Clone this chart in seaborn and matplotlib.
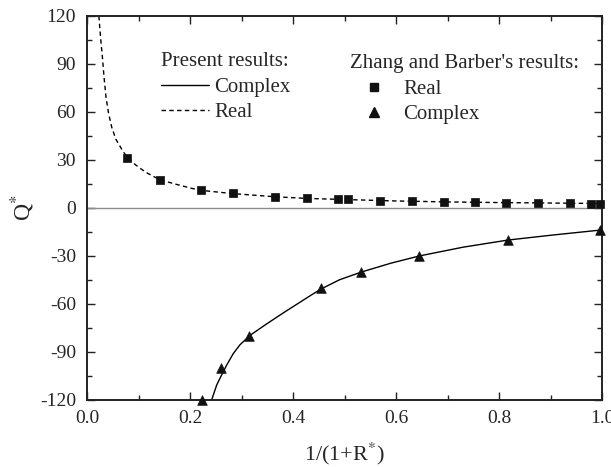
import numpy as np
import pandas as pd
import matplotlib
matplotlib.use("Agg")
import matplotlib.pyplot as plt
from matplotlib.lines import Line2D
import seaborn as sns

# Present results: computed curves
real_curve_x = [0.023, 0.0265, 0.030, 0.033, 0.037, 0.042, 0.048, 0.056, 0.067, 0.079,
                0.100, 0.116, 0.141, 0.171, 0.203, 0.222, 0.283, 0.366, 0.427, 0.500,
                0.600, 0.700, 0.800, 0.900, 1.000]
real_curve_y = [120, 106, 94, 82, 69, 59, 50.5, 43, 37, 31,
                25.5, 22, 17.7, 15, 12.3, 11, 9, 7, 6, 5.3,
                4.4, 3.8, 3.4, 3.1, 2.8]

complex_curve_x = [0.242, 0.252, 0.262, 0.271, 0.284, 0.297, 0.317, 0.349, 0.381, 0.414,
                   0.433, 0.454, 0.490, 0.533, 0.590, 0.645, 0.730, 0.818, 0.910, 1.000]
complex_curve_y = [-120, -110.5, -104, -98.3, -91, -85.5, -79.5, -72.4, -65.6, -58.8,
                   -54.9, -50.7, -44.9, -40, -34.5, -30, -24.5, -20, -16.7, -13.7]

# Zhang and Barber's results
zb_real_x = [0.078, 0.141, 0.222, 0.283, 0.366, 0.427, 0.488, 0.507, 0.569, 0.632,
             0.693, 0.753, 0.814, 0.875, 0.937, 0.979, 0.996]
zb_real_y = [31, 17.5, 11, 9.2, 7.1, 6, 5.4, 5.4, 4.6, 4.2,
             3.8, 3.5, 3.3, 3.1, 3.0, 2.8, 2.7]

zb_complex_x = [0.223, 0.261, 0.315, 0.454, 0.533, 0.645, 0.818, 0.997]
zb_complex_y = [-120, -100, -80, -50, -40, -30, -20, -13.5]

x_ticks = [0.0, 0.2, 0.4, 0.6, 0.8, 1.0]
y_ticks = [-120, -90, -60, -30, 0, 30, 60, 90, 120]

sns.set_theme(style="ticks")
plt.rcParams["font.family"] = ["Liberation Serif", "DejaVu Serif"]
plt.rcParams["mathtext.fontset"] = "stix"
plt.rcParams["xtick.direction"] = "in"
plt.rcParams["ytick.direction"] = "in"

fig = plt.figure(figsize=(6.11, 4.67), dpi=100)
ax = fig.add_axes([87 / 611, 67 / 467, 515 / 611, 384 / 467])

ax.axhline(0, color="#8c8c8c", lw=1.0, zorder=1)

dash = (0, (3.2, 2.4))
sns.lineplot(x=real_curve_x, y=real_curve_y, ax=ax, color="black", lw=1.0,
             linestyle=dash, estimator=None, sort=False, zorder=2)
sns.lineplot(x=complex_curve_x, y=complex_curve_y, ax=ax, color="black", lw=1.0,
             estimator=None, sort=False, zorder=2)
sns.scatterplot(x=zb_real_x, y=zb_real_y, ax=ax, marker="s", s=28, color="#111111",
                edgecolor="#111111", linewidth=0.5, zorder=3, clip_on=False)
sns.scatterplot(x=zb_complex_x, y=zb_complex_y, ax=ax, marker="^", s=48, color="#111111",
                edgecolor="#111111", linewidth=0.5, zorder=3, clip_on=False)

ax.set_xlim(0, 1)
ax.set_ylim(-120, 120)
ax.set_xticks(x_ticks)
ax.set_xticklabels([f"{v:.1f}" for v in x_ticks])
ax.set_yticks(y_ticks)
ax.set_yticklabels([str(v) for v in y_ticks])
ax.set_xticks(np.arange(0.1, 1.0, 0.2), minor=True)
ax.set_yticks(np.arange(-105, 120, 30), minor=True)
ax.tick_params(which="both", top=True, right=True, labeltop=False, labelright=False,
               width=1.0, color="#222222")
ax.tick_params(which="major", length=6, labelsize=14)
ax.tick_params(axis="x", which="major", pad=7)
ax.tick_params(axis="y", which="major", pad=8)
ax.tick_params(which="minor", length=3.5)
for s in ax.spines.values():
    s.set_linewidth(1.4)
    s.set_color("#222222")

ax.set_xlabel(r"1/(1+R$^{*}$)", fontsize=16, labelpad=10)
ax.set_ylabel(r"Q$^{*}$", fontsize=17)
ax.yaxis.set_label_coords(-0.097, 0.5)

present_handles = [Line2D([], [], color="black", lw=1.0),
                   Line2D([], [], color="black", lw=1.0, linestyle=dash)]
leg1 = ax.legend(present_handles, ["Complex", "Real"], title="Present results:",
                 loc="upper left", bbox_to_anchor=(0.1437, 0.905), frameon=False,
                 fontsize=15, title_fontsize=15, alignment="left",
                 handlelength=2.3, handletextpad=0.25, labelspacing=0.28,
                 borderpad=0, borderaxespad=0)
ax.add_artist(leg1)

zb_handles = [Line2D([], [], color="#111111", marker="s", markersize=5.5, linestyle="none"),
              Line2D([], [], color="#111111", marker="^", markersize=7, linestyle="none")]
ax.legend(zb_handles, ["Real", "Complex"], title="Zhang and Barber's results:",
          loc="upper left", bbox_to_anchor=(0.511, 0.90), frameon=False,
          fontsize=15, title_fontsize=15, alignment="left",
          handlelength=2.3, handletextpad=0.25, labelspacing=0.28,
          borderpad=0, borderaxespad=0)

fig.savefig("out.png", dpi=100)
